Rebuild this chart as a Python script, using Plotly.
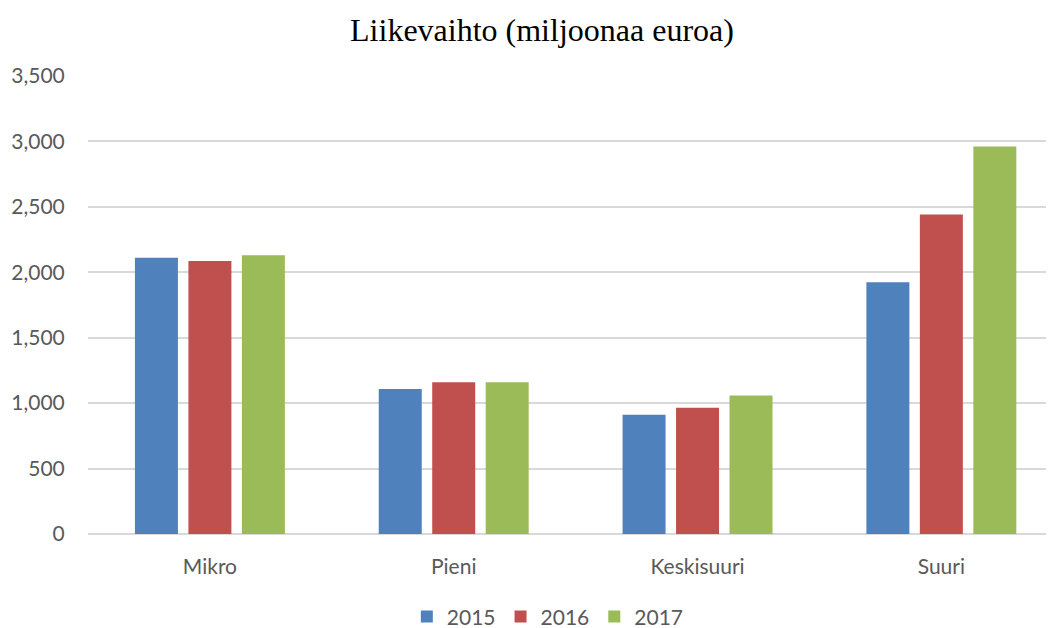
import plotly.graph_objects as go

categories = ["Mikro", "Pieni", "Keskisuuri", "Suuri"]
years = ["2015", "2016", "2017"]
v2015 = [2112, 1109, 911, 1924]
v2016 = [2086, 1160, 964, 2441]
v2017 = [2130, 1160, 1058, 2962]
colors = ["#4F81BD", "#C0504D", "#9BBB59"]

fig = go.Figure()
for name, vals, col in zip(years, [v2015, v2016, v2017], colors):
    fig.add_trace(go.Bar(x=categories, y=vals, name=name, marker=dict(color=col, line=dict(width=0))))

fig.update_layout(
    width=1046, height=620,
    paper_bgcolor="white", plot_bgcolor="white",
    margin=dict(l=80, r=0, t=68, b=94, autoexpand=False),
    barmode="group", bargap=0.342, bargroupgap=0.196,
    title=dict(text="Liikevaihto (miljoonaa euroa)", x=0.5105, xanchor="center",
               y=0.9645, yanchor="middle", automargin=False,
               font=dict(family="Liberation Serif", size=32, color="#000000")),
    font=dict(family="Lato", size=21, color="#595959"),
    legend=dict(orientation="h", x=0.476, xanchor="center", y=-0.181, yanchor="middle",
                font=dict(family="Lato", size=21, color="#595959"), itemwidth=30),
    showlegend=True,
)
fig.update_xaxes(range=[-0.5, 3.462], showgrid=False, showline=False, zeroline=False,
                 automargin=False,
                 ticks="outside", ticklen=14, tickcolor="rgba(0,0,0,0)",
                 tickfont=dict(family="Lato", size=21, color="#595959"))
fig.update_yaxes(range=[0, 3500], dtick=500, tickformat=",", showgrid=True,
                 automargin=False,
                 gridcolor="#D9D9D9", gridwidth=1.5, zeroline=True, zerolinecolor="#D9D9D9",
                 zerolinewidth=1.5, showline=False,
                 ticks="outside", ticklen=18, tickcolor="rgba(0,0,0,0)",
                 tickfont=dict(family="Lato", size=21, color="#595959"))

fig.write_html("out.html")
